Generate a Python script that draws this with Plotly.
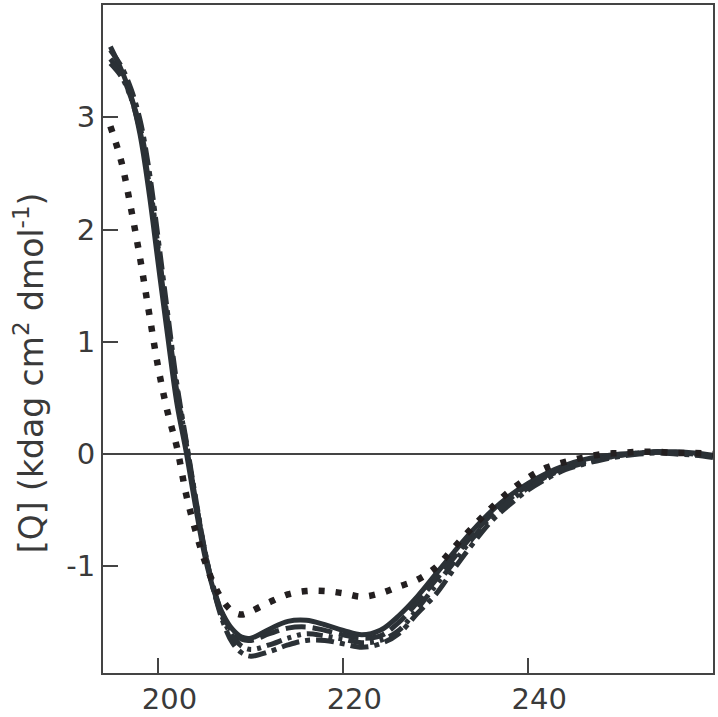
import plotly.graph_objects as go

# wavelength (nm)
wavelength = [194.8, 196, 197, 198, 199, 200, 201, 202, 203, 204, 205, 206, 207, 208, 209, 210,
              212, 214, 216, 218, 220, 222, 224, 226, 228, 230, 232, 234, 236, 238, 240, 242,
              244, 246, 248, 250, 252, 254, 256, 258, 260]

# mean residue ellipticity, kdeg cm2 dmol-1
solid_vals = [3.63, 3.42, 3.20, 2.85, 2.32, 1.68, 1.05, 0.45, 0.02, -0.46, -0.90, -1.22, -1.43, -1.56,
              -1.63, -1.64, -1.56, -1.49, -1.48, -1.52, -1.57, -1.61, -1.57, -1.44, -1.27, -1.07,
              -0.87, -0.68, -0.51, -0.37, -0.26, -0.17, -0.10, -0.05, -0.02, 0.00, 0.01, 0.02, 0.02,
              0.01, -0.01]
dash_vals = [3.52, 3.38, 3.18, 2.88, 2.40, 1.78, 1.15, 0.55, 0.08, -0.40, -0.86, -1.20, -1.44, -1.58,
             -1.65, -1.66, -1.60, -1.55, -1.54, -1.57, -1.61, -1.64, -1.62, -1.50, -1.32, -1.12,
             -0.92, -0.72, -0.54, -0.40, -0.28, -0.19, -0.12, -0.07, -0.04, -0.01, 0.01, 0.02, 0.01,
             0.00, -0.02]
dashdot_vals = [3.60, 3.45, 3.26, 2.98, 2.52, 1.90, 1.25, 0.62, 0.12, -0.38, -0.85, -1.22, -1.50, -1.68,
                -1.77, -1.80, -1.76, -1.70, -1.66, -1.66, -1.69, -1.72, -1.69, -1.60, -1.42, -1.25,
                -1.02, -0.80, -0.60, -0.45, -0.32, -0.22, -0.14, -0.09, -0.05, -0.02, 0.00, 0.01,
                0.00, -0.01, -0.03]
dashdotdot_vals = [3.48, 3.36, 3.18, 2.92, 2.45, 1.82, 1.18, 0.58, 0.10, -0.40, -0.86, -1.22, -1.47,
                   -1.62, -1.71, -1.74, -1.70, -1.64, -1.60, -1.62, -1.65, -1.68, -1.66, -1.57, -1.38,
                   -1.17, -0.96, -0.75, -0.56, -0.42, -0.30, -0.20, -0.13, -0.08, -0.04, -0.01, 0.01,
                   0.02, 0.01, 0.00, -0.02]
dotted_vals = [2.92, 2.60, 2.20, 1.75, 1.25, 0.76, 0.37, 0.06, -0.36, -0.68, -0.95, -1.16, -1.31, -1.40,
               -1.43, -1.40, -1.32, -1.25, -1.22, -1.22, -1.24, -1.27, -1.24, -1.18, -1.12, -1.01,
               -0.83, -0.65, -0.48, -0.33, -0.21, -0.12, -0.07, -0.03, 0.00, 0.01, 0.02, 0.02, 0.01,
               0.01, 0.00]

x_ticks = [200, 220, 240]
y_ticks = [-1, 0, 1, 2, 3]
y_labels = ['-1', '0', '1', '2', '3']

dark = '#2b3136'
series = [
    (solid_vals, 'solid', dark, 5),
    (dash_vals, '20px,7px', dark, 5),
    (dashdot_vals, '18px,6px,5px,6px', dark, 5),
    (dashdotdot_vals, '16px,6px,4px,6px,4px,6px', dark, 5),
    (dotted_vals, '6px,11px', '#231f20', 6.5),
]

fig = go.Figure()
for vals, dash, color, w in series:
    fig.add_trace(go.Scatter(x=wavelength, y=vals, mode='lines',
                             line=dict(color=color, width=w, dash=dash, shape='spline'),
                             showlegend=False))

axis_font = dict(family='DejaVu Sans', size=29, color='#3a3a3a')

fig.update_layout(
    width=718, height=717,
    margin=dict(l=103, r=5, t=5, b=44),
    plot_bgcolor='white', paper_bgcolor='white',
    xaxis=dict(range=[194, 260], tickvals=x_ticks, ticks='inside', ticklen=15, tickwidth=1.5,
               tickcolor='#444', showline=True, linecolor='#444', linewidth=2, mirror=True,
               showgrid=False, zeroline=False, tickfont=axis_font, ticklabelshift=11,
               ticklabelstandoff=-1, automargin=False),
    yaxis=dict(range=[-1.95, 4.0], tickvals=y_ticks, ticktext=y_labels, ticks='inside', ticklen=15,
               tickwidth=1.5, tickcolor='#444', showline=True, linecolor='#444', linewidth=2,
               mirror=True, showgrid=False, zeroline=True, zerolinecolor='#444', zerolinewidth=1.5,
               tickfont=axis_font, automargin=False),
    annotations=[dict(text='[Q] (kdag cm<sup>2</sup> dmol<sup>-1</sup>)', xref='paper', yref='paper',
                      x=-0.12, y=0.45, xanchor='center', yanchor='middle', textangle=-90,
                      showarrow=False, font=dict(family='DejaVu Sans', size=33, color='#3a3a3a'))],
)

# drop the page's default body margin so the figure sits at the window corner
fig.write_html("out.html", config={'displayModeBar': False},
               post_script="document.body.style.margin='0';")
